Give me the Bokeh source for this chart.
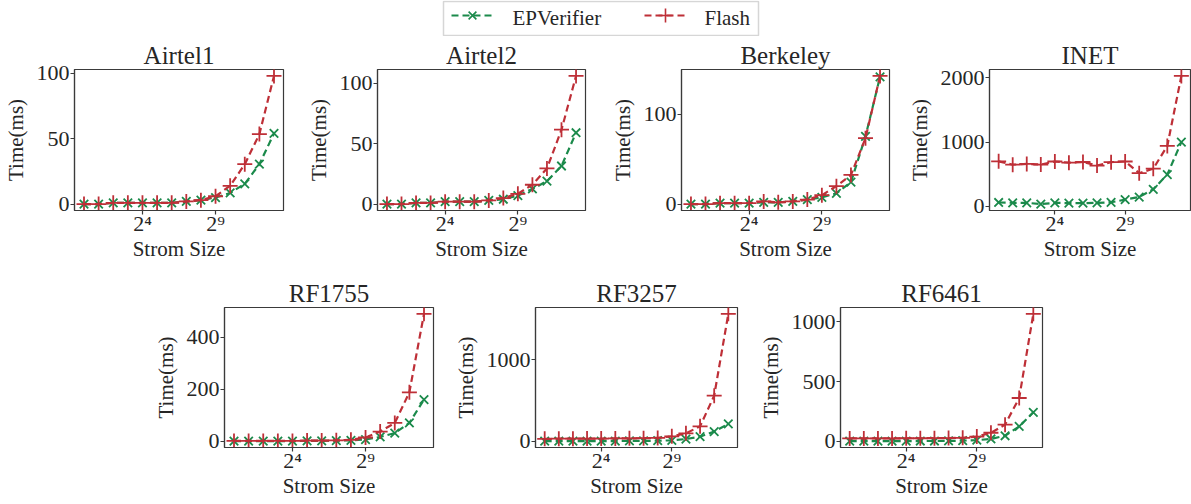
from bokeh.plotting import figure
from bokeh.models import Range1d, FixedTicker, Spacer
from bokeh.core.properties import value
from bokeh.layouts import column, row
from bokeh.embed import file_html
from bokeh.resources import INLINE

# ---------------- data ----------------
sizes = [1, 2, 4, 8, 16, 32, 64, 128, 256, 512, 1024, 2048, 4096, 8192]
x_ticks = [16, 512]
x_tick_labels = {16: "2\u2074", 512: "2\u2079"}
series_names = ["EPVerifier", "Flash"]

titles = ["Airtel1", "Airtel2", "Berkeley", "INET", "RF1755", "RF3257", "RF6461"]

airtel1_ep = [0, 0, 1, 1, 1, 1, 1, 2, 3, 5, 8.5, 15.5, 30.5, 54]
airtel1_fl = [0, 0, 1, 1, 1, 1, 1, 2, 3, 6, 14, 30.5, 53.5, 98]
airtel2_ep = [0, 0, 1, 1, 2, 2, 2, 3, 4, 7, 12.5, 19, 31.5, 59]
airtel2_fl = [0, 0, 1, 1, 2, 2, 2, 3, 5, 8.5, 16, 29.5, 61.5, 106]
berkeley_ep = [0, 0, 1, 1, 1, 2, 2, 3, 5, 7.5, 12, 24.5, 75.5, 142]
berkeley_fl = [0, 0, 1, 1, 1, 3, 2, 3, 5, 10, 20, 32.5, 73.5, 143]
inet_ep = [60, 55, 55, 35, 55, 50, 50, 55, 63, 105, 145, 265, 495, 1000]
inet_fl = [700, 648, 660, 650, 698, 680, 690, 635, 688, 698, 516, 586, 940, 2030]
rf1755_ep = [0, 0, 0, 0, 0, 1, 1, 2, 3, 6, 16, 31, 70, 160]
rf1755_fl = [1, 1, 1, 1, 1, 2, 2, 3, 5, 14, 37, 70, 188, 490]
rf3257_ep = [2, 2, 2, 2, 3, 3, 4, 5, 7, 12, 28, 57, 120, 213]
rf3257_fl = [30, 32, 32, 33, 34, 35, 36, 38, 42, 61, 98, 184, 561, 1566]
rf6461_ep = [2, 2, 2, 2, 2, 3, 3, 4, 6, 10, 20, 47, 125, 243]
rf6461_fl = [25, 25, 25, 25, 26, 26, 27, 28, 30, 40, 72, 140, 363, 1067]

y_ticks = [[0, 50, 100], [0, 50, 100], [0, 100], [0, 1000, 2000],
           [0, 200, 400], [0, 1000], [0, 500, 1000]]

ep_all = [airtel1_ep, airtel2_ep, berkeley_ep, inet_ep, rf1755_ep, rf3257_ep, rf6461_ep]
fl_all = [airtel1_fl, airtel2_fl, berkeley_fl, inet_fl, rf1755_fl, rf3257_fl, rf6461_fl]

# ---------------- styles ----------------
GREEN = "#1b8a4b"
RED = "#be2f37"
TXT = "#262626"
EDGE = "#3a3a3a"
FONT = "Liberation Serif"
DASH = "7 4"
series_colors = [GREEN, RED]
series_markers = ["x", "cross"]
series_msizes = [12, 15]

# (width, height, left, right, top, bottom)
layout_cfg = [
    (300, 230, 73, 17, 33, 56),
    (304, 230, 77, 19, 33, 56),
    (300, 230, 77, 15, 33, 56),
    (287, 230, 81, 1, 33, 56),
    (300, 238, 74, 17, 41, 57),
    (305, 238, 79, 18, 41, 57),
    (305, 238, 78, 18, 41, 57),
]

# legend strip geometry (screen pixels of the strip)
LEG_BOX = (443, 758, 1, 35)          # left, right, top, bottom
LEG_SAMPLE_X = [(451, 493), (644, 686)]
LEG_TEXT_X = [512, 704]
LEG_Y = 15


def panel(i):
    w, h, l, r, t, b = layout_cfg[i]
    ep, fl = ep_all[i], fl_all[i]
    lo, hi = min(ep + fl), max(ep + fl)
    span = hi - lo
    p = figure(width=w, height=h, x_axis_type="log",
               x_range=Range1d(2 ** -0.65, 2 ** 13.65),
               y_range=Range1d(lo - 0.05 * span, hi + 0.05 * span),
               output_backend="svg", toolbar_location=None,
               min_border_left=l, min_border_right=r,
               min_border_top=t, min_border_bottom=b)
    p.title.text = titles[i]
    p.title.align = "center"
    p.title.text_font = FONT
    p.title.text_font_size = "25px"
    p.title.text_font_style = "normal"
    p.title.text_color = TXT
    p.title.standoff = 2
    p.grid.visible = False
    p.outline_line_color = EDGE
    p.outline_line_width = 1.2
    p.background_fill_color = "white"
    p.border_fill_color = "white"

    p.xaxis.ticker = FixedTicker(ticks=x_ticks)
    p.xaxis.major_label_overrides = x_tick_labels
    p.yaxis.ticker = FixedTicker(ticks=y_ticks[i])
    p.xaxis.axis_label = "Strom Size"
    p.yaxis.axis_label = "Time(ms)"
    for ax in (p.xaxis[0], p.yaxis[0]):
        ax.axis_label_text_font = FONT
        ax.axis_label_text_font_size = "21px"
        ax.axis_label_text_font_style = "normal"
        ax.axis_label_text_color = TXT
        ax.major_label_text_font = FONT
        ax.major_label_text_font_size = "22px"
        ax.major_label_text_color = TXT
        ax.axis_line_color = EDGE
        ax.axis_line_width = 1.2
        ax.major_tick_line_color = EDGE
        ax.major_tick_line_width = 1.2
        ax.major_tick_in = 0
        ax.major_tick_out = 4
        ax.minor_tick_line_color = None
    p.yaxis.major_label_standoff = 1
    p.yaxis.axis_label_standoff = 6
    p.xaxis.major_label_standoff = -4
    p.xaxis.axis_label_standoff = -2

    for k, ys in enumerate((ep, fl)):
        p.line(sizes, ys, line_color=series_colors[k], line_width=2.2, line_dash=DASH)
        p.scatter(sizes, ys, marker=series_markers[k], size=series_msizes[k],
                  line_color=series_colors[k], line_width=1.8)
    return p


figs = [panel(i) for i in range(7)]

# legend strip: ranges in screen pixels (y grows downward)
lg = figure(width=1191, height=36, x_range=Range1d(0, 1191), y_range=Range1d(36, 0),
            output_backend="svg", toolbar_location=None,
            x_axis_location=None, y_axis_location=None,
            min_border=0, outline_line_color=None)
lg.grid.visible = False
lg.quad(left=[LEG_BOX[0]], right=[LEG_BOX[1]], top=[LEG_BOX[2]], bottom=[LEG_BOX[3]],
        fill_color="white", line_color="#d6d6d6", line_width=1.5)
for k in range(2):
    x0, x1 = LEG_SAMPLE_X[k]
    lg.line([x0, x1], [LEG_Y, LEG_Y], line_color=series_colors[k], line_width=2.2,
            line_dash=DASH)
    lg.scatter([(x0 + x1) / 2], [LEG_Y], marker=series_markers[k], size=series_msizes[k] - 1,
               line_color=series_colors[k], line_width=1.6)
    lg.text(x=[LEG_TEXT_X[k]], y=[LEG_Y + 2], text=[series_names[k]],
            text_font=value(FONT), text_font_size="21px", text_color=TXT,
            text_baseline="middle", text_align="left")

top = row(figs[0], figs[1], figs[2], figs[3])
bottom = row(Spacer(width=150, height=238), figs[4], figs[5], figs[6])
page = column(lg, top, bottom)

open("out.html", "w").write(file_html(page, INLINE))
